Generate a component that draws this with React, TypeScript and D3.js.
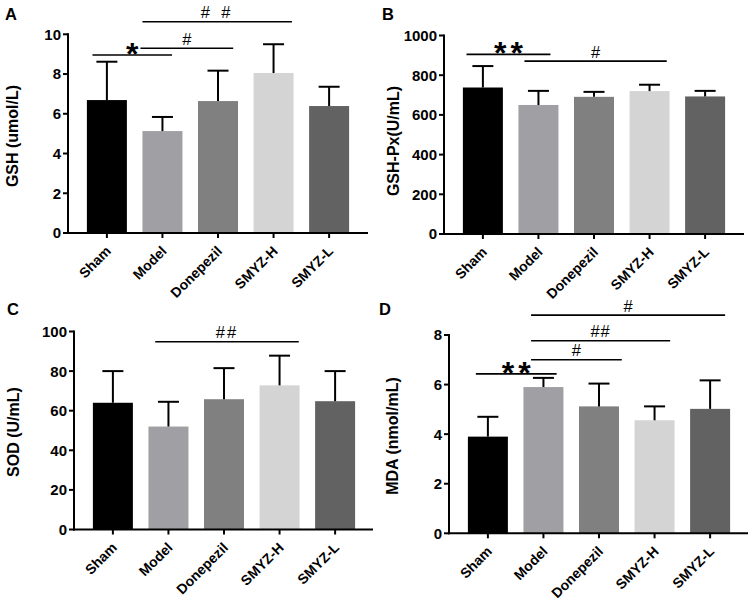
import React from 'react';
import * as d3 from 'd3';

const categories = ['Sham', 'Model', 'Donepezil', 'SMYZ-H', 'SMYZ-L'];
const barColors = ['#000000', '#a0a0a4', '#808080', '#d4d4d4', '#626262'];

// Panel A: GSH
const gshMean = [6.69, 5.13, 6.64, 8.05, 6.39];
const gshSD = [1.93, 0.71, 1.53, 1.45, 0.97];
const gshTicks = [0, 2, 4, 6, 8, 10];
// Panel B: GSH-Px
const gshpxMean = [738, 650, 691, 720, 693];
const gshpxSD = [108, 71, 25, 32, 28];
const gshpxTicks = [0, 200, 400, 600, 800, 1000];
// Panel C: SOD
const sodMean = [64, 52, 65.8, 72.8, 64.8];
const sodSD = [16, 12.5, 15.7, 15, 15.2];
const sodTicks = [0, 20, 40, 60, 80, 100];
// Panel D: MDA
const mdaMean = [3.9, 5.9, 5.12, 4.56, 5.02];
const mdaSD = [0.8, 0.37, 0.92, 0.56, 1.15];
const mdaTicks = [0, 2, 4, 6, 8];

type Ann = { from: string; to: string; y: number; label: string; f0: number; f1: number };

const gshAnn: Ann[] = [
  { from: 'Sham', to: 'Model', y: 8.96, label: '*', f0: 0.14, f1: 0.74 },
  { from: 'Model', to: 'Donepezil', y: 9.3, label: '#', f0: -0.05, f1: 0.88 },
  { from: 'Model', to: 'SMYZ-H', y: 10.63, label: '# #', f0: 0, f1: 0.96 },
];
const gshpxAnn: Ann[] = [
  { from: 'Sham', to: 'Model', y: 905, label: '**', f0: 0.09, f1: 0.8 },
  { from: 'Model', to: 'SMYZ-H', y: 871, label: '#', f0: 0.15, f1: 0.93 },
];
const sodAnn: Ann[] = [
  { from: 'Model', to: 'SMYZ-H', y: 94.8, label: '##', f0: 0.17, f1: 0.98 },
];
const mdaAnn: Ann[] = [
  { from: 'Sham', to: 'Model', y: 6.43, label: '**', f0: 0.2, f1: 0.83 },
  { from: 'Model', to: 'Donepezil', y: 7.0, label: '#', f0: 0.19, f1: 1.07 },
  { from: 'Model', to: 'SMYZ-H', y: 7.77, label: '##', f0: 0.19, f1: 0.89 },
  { from: 'Model', to: 'SMYZ-L', y: 8.8, label: '#', f0: 0.19, f1: 0.875 },
];

const FONT = '"Liberation Sans", Arial, Helvetica, sans-serif';

type Layout = {
  axisX: number; axisEnd: number; yTop: number; yBase: number;
  letterX: number; letterY: number; yLabelX: number; yLabelY: number; hashSpacing: number;
};

type PanelProps = {
  letter: string; yLabel: string; mean: number[]; sd: number[]; ticks: number[];
  anns: Ann[]; layout: Layout;
};

function Panel({ letter, yLabel, mean, sd, ticks, anns, layout }: PanelProps) {
  const { axisX, axisEnd, yTop, yBase } = layout;
  const x = d3.scaleBand<string>().domain(categories).range([axisX, axisX + 300]).paddingInner(0.28).paddingOuter(0.34);
  const y = d3.scaleLinear().domain([0, ticks[ticks.length - 1]]).range([yBase, yTop]);
  const bw = x.bandwidth();
  return (
    <g>
      <text x={layout.letterX} y={layout.letterY} fontFamily={FONT} fontWeight="bold" fontSize={16.5}>{letter}</text>
      <text transform={`translate(${layout.yLabelX},${layout.yLabelY}) rotate(-90)`} textAnchor="middle" dominantBaseline="central" fontFamily={FONT} fontWeight="bold" fontSize={16}>{yLabel}</text>
      {categories.map((c, i) => (
        <rect key={c} x={x(c)} y={y(mean[i])} width={bw} height={yBase - y(mean[i])} fill={barColors[i]} />
      ))}
      {categories.map((c, i) => {
        const cx = (x(c) as number) + bw / 2;
        const top = y(mean[i] + sd[i]);
        return (
          <g key={c} stroke="#000" strokeWidth={2}>
            <line x1={cx} x2={cx} y1={y(mean[i])} y2={top} />
            <line x1={cx - 10.5} x2={cx + 10.5} y1={top} y2={top} />
          </g>
        );
      })}
      <line x1={axisX} x2={axisX} y1={yTop - 1} y2={yBase + 1} stroke="#000" strokeWidth={2} />
      <line x1={axisX - 1} x2={axisEnd} y1={yBase} y2={yBase} stroke="#000" strokeWidth={2} />
      {ticks.map((t) => (
        <g key={t}>
          <line x1={axisX - 5} x2={axisX} y1={y(t)} y2={y(t)} stroke="#000" strokeWidth={2} />
          <text x={axisX - 7} y={y(t)} dy="0.36em" textAnchor="end" fontFamily={FONT} fontWeight="bold" fontSize={15}>{t}</text>
        </g>
      ))}
      {categories.map((c) => {
        const cx = (x(c) as number) + bw / 2;
        return (
          <g key={c}>
            <line x1={cx} x2={cx} y1={yBase} y2={yBase + 5} stroke="#000" strokeWidth={2} />
            <text transform={`translate(${cx + 5},${yBase + 19}) rotate(-45)`} textAnchor="end" fontFamily={FONT} fontWeight="bold" fontSize={14}>{c}</text>
          </g>
        );
      })}
      {anns.map((a, k) => {
        const x0 = (x(a.from) as number) + bw * a.f0;
        const x1 = (x(a.to) as number) + bw * a.f1;
        const ly = y(a.y);
        const mid = (x0 + x1) / 2;
        const isStar = a.label.includes('*');
        return (
          <g key={k}>
            <line x1={x0} x2={x1} y1={ly} y2={ly} stroke="#000" strokeWidth={1.6} />
            {isStar ? (
              <text x={mid + (a.label.length > 1 ? 2 : 0)} y={ly + 10} textAnchor="middle" fontFamily={FONT} fontWeight="bold" fontSize={32} letterSpacing={a.label.length > 1 ? 4 : 0}>{a.label}</text>
            ) : (
              <text x={mid} y={ly - 3.5} textAnchor="middle" fontFamily={FONT} fontSize={16.5} letterSpacing={a.label.length > 1 ? layout.hashSpacing : 0}>{a.label}</text>
            )}
          </g>
        );
      })}
    </g>
  );
}

export default function App() {
  return (
    <svg width={753} height={606} style={{ position: 'absolute', left: 0, top: 0, background: '#fff' }}>
      <rect width={753} height={606} fill="#fff" />
      <Panel letter="A" yLabel="GSH (umol/L)" mean={gshMean} sd={gshSD} ticks={gshTicks} anns={gshAnn}
        layout={{ axisX: 68, axisEnd: 368, yTop: 34.3, yBase: 233, letterX: 5, letterY: 20, yLabelX: 12, yLabelY: 136, hashSpacing: 3.3 }} />
      <Panel letter="B" yLabel="GSH-Px(U/mL)" mean={gshpxMean} sd={gshpxSD} ticks={gshpxTicks} anns={gshpxAnn}
        layout={{ axisX: 444, axisEnd: 744, yTop: 35.5, yBase: 234, letterX: 382, letterY: 20, yLabelX: 393, yLabelY: 141, hashSpacing: 3 }} />
      <Panel letter="C" yLabel="SOD (U/mL)" mean={sodMean} sd={sodSD} ticks={sodTicks} anns={sodAnn}
        layout={{ axisX: 74, axisEnd: 373, yTop: 331.5, yBase: 529.5, letterX: 7, letterY: 315, yLabelX: 13.5, yLabelY: 432, hashSpacing: 2 }} />
      <Panel letter="D" yLabel="MDA (nmol/mL)" mean={mdaMean} sd={mdaSD} ticks={mdaTicks} anns={mdaAnn}
        layout={{ axisX: 449, axisEnd: 748, yTop: 335, yBase: 533.3, letterX: 379, letterY: 315, yLabelX: 392.5, yLabelY: 436, hashSpacing: 1 }} />
    </svg>
  );
}
